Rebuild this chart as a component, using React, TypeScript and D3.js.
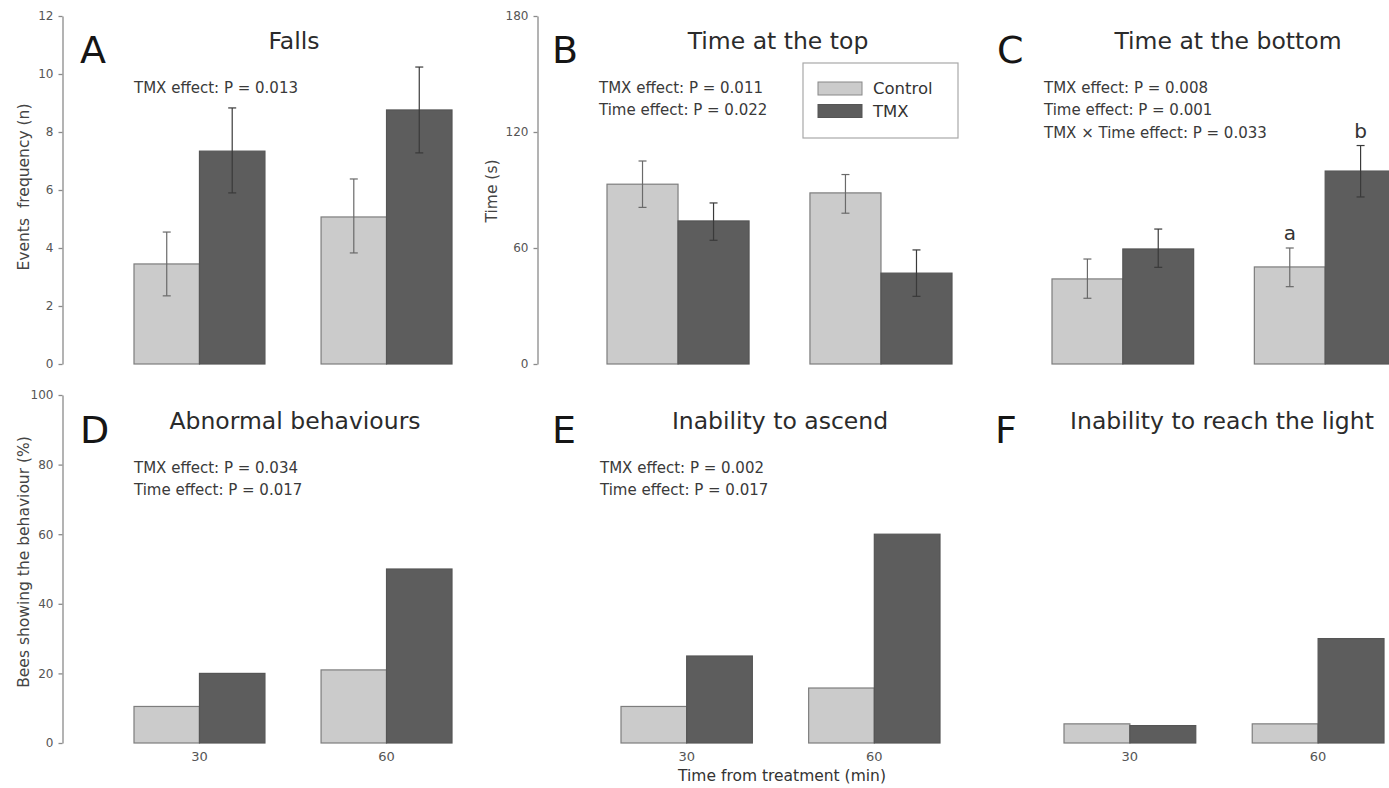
import React, { useEffect, useRef } from "react";
import * as d3 from "d3";

// ---- data ----
const TIMES = ["30", "60"];
const GROUPS = ["Control", "TMX"];

// A: Falls (events frequency, n)
const fallsControl = [3.45, 5.07];
const fallsControlLo = [2.35, 3.83];
const fallsControlHi = [4.55, 6.38];
const fallsTMX = [7.34, 8.76];
const fallsTMXLo = [5.9, 7.28];
const fallsTMXHi = [8.83, 10.24];

// B: Time at the top (s)
const topControl = [93, 88.5];
const topControlLo = [81, 78];
const topControlHi = [105, 98];
const topTMX = [74, 47];
const topTMXLo = [64, 35];
const topTMXHi = [83.3, 59];

// C: Time at the bottom (s)
const bottomControl = [44, 50.2];
const bottomControlLo = [34, 40];
const bottomControlHi = [54.3, 60];
const bottomTMX = [59.5, 99.8];
const bottomTMXLo = [50, 86.4];
const bottomTMXHi = [69.8, 113];

// D-F: % bees showing the behaviour
const abnormalControl = [10.5, 21];
const abnormalTMX = [20, 50];
const ascendControl = [10.5, 15.8];
const ascendTMX = [25, 60];
const lightControl = [5.5, 5.5];
const lightTMX = [5, 30];

const fallsTicks = [0, 2, 4, 6, 8, 10, 12];
const timeTicks = [0, 60, 120, 180];
const pctTicks = [0, 20, 40, 60, 80, 100];

const FONT = "'DejaVu Sans', 'Noto Sans', sans-serif";
const CONTROL_FILL = "#cbcbcb";
const TMX_FILL = "#5d5d5d";

type Panel = {
  letter: string;
  title: string;
  stats: string[];
  domain: [number, number];
  ticks: number[] | null;
  row: 0 | 1;
  xRange: [number, number];
  axisX: number | null;
  yLabel?: string;
  yLabelX?: number;
  yLabelY?: number;
  xLabels: boolean;
  letterX: number;
  titleX: number;
  statsX: number;
  control: number[];
  tmx: number[];
  controlLo?: number[];
  controlHi?: number[];
  tmxLo?: number[];
  tmxHi?: number[];
  sig?: { group: string; time: string; text: string }[];
};

const panels: Panel[] = [
  {
    letter: "A", title: "Falls", stats: ["TMX effect: P = 0.013"],
    domain: [0, 12], ticks: fallsTicks, row: 0, xRange: [134, 452], axisX: 62.5,
    yLabel: "Events  frequency (n)", yLabelX: 24, yLabelY: 187, xLabels: false,
    letterX: 80, titleX: 294, statsX: 134,
    control: fallsControl, tmx: fallsTMX, controlLo: fallsControlLo, controlHi: fallsControlHi,
    tmxLo: fallsTMXLo, tmxHi: fallsTMXHi,
  },
  {
    letter: "B", title: "Time at the top", stats: ["TMX effect: P = 0.011", "Time effect: P = 0.022"],
    domain: [0, 180], ticks: timeTicks, row: 0, xRange: [607, 952], axisX: 537.5,
    yLabel: "Time (s)", yLabelX: 492, yLabelY: 191, xLabels: false,
    letterX: 552, titleX: 778, statsX: 599,
    control: topControl, tmx: topTMX, controlLo: topControlLo, controlHi: topControlHi,
    tmxLo: topTMXLo, tmxHi: topTMXHi,
  },
  {
    letter: "C", title: "Time at the bottom",
    stats: ["TMX effect: P = 0.008", "Time effect: P = 0.001", "TMX \u00d7 Time effect: P = 0.033"],
    domain: [0, 180], ticks: null, row: 0, xRange: [1052, 1396], axisX: null, xLabels: false,
    letterX: 997, titleX: 1228, statsX: 1044,
    control: bottomControl, tmx: bottomTMX, controlLo: bottomControlLo, controlHi: bottomControlHi,
    tmxLo: bottomTMXLo, tmxHi: bottomTMXHi,
    sig: [{ group: "Control", time: "60", text: "a" }, { group: "TMX", time: "60", text: "b" }],
  },
  {
    letter: "D", title: "Abnormal behaviours", stats: ["TMX effect: P = 0.034", "Time effect: P = 0.017"],
    domain: [0, 100], ticks: pctTicks, row: 1, xRange: [134, 452], axisX: 62.5,
    yLabel: "Bees showing the behaviour (%)", yLabelX: 24, yLabelY: 562, xLabels: true,
    letterX: 80, titleX: 295, statsX: 134,
    control: abnormalControl, tmx: abnormalTMX,
  },
  {
    letter: "E", title: "Inability to ascend", stats: ["TMX effect: P = 0.002", "Time effect: P = 0.017"],
    domain: [0, 100], ticks: null, row: 1, xRange: [621, 940], axisX: null, xLabels: true,
    letterX: 552, titleX: 780, statsX: 600,
    control: ascendControl, tmx: ascendTMX,
  },
  {
    letter: "F", title: "Inability to reach the light", stats: [],
    domain: [0, 100], ticks: null, row: 1, xRange: [1064, 1384], axisX: null, xLabels: true,
    letterX: 995, titleX: 1222, statsX: 1044,
    control: lightControl, tmx: lightTMX,
  },
];

const ROWS = [
  { yRange: [364, 16] as [number, number], titleY: 49, letterY: 63, statsY: 92.5 },
  { yRange: [743, 395] as [number, number], titleY: 429, letterY: 443, statsY: 472.5 },
];

function Axis({ x, scale, ticks }: { x: number; scale: d3.ScaleLinear<number, number>; ticks: number[] }) {
  const ref = useRef<SVGGElement>(null);
  useEffect(() => {
    if (!ref.current) return;
    const g = d3.select(ref.current);
    g.selectAll("*").remove();
    g.call(d3.axisLeft(scale).tickValues(ticks).tickSize(4).tickSizeOuter(0).tickPadding(5));
    g.select(".domain").attr("stroke", "#8a8a8a").attr("stroke-width", 1.3);
    g.selectAll(".tick line").attr("stroke", "#8a8a8a").attr("stroke-width", 1.3);
    g.selectAll(".tick text")
      .attr("fill", "#555")
      .style("fill", "#555")
      .style("font-family", FONT)
      .style("font-size", "12px");
  }, [scale, ticks]);
  return <g ref={ref} transform={`translate(${x},0)`} />;
}

function PanelView({ p }: { p: Panel }) {
  const row = ROWS[p.row];
  const y = d3.scaleLinear().domain(p.domain).range(row.yRange);
  const xTime = d3.scaleBand<string>().domain(TIMES).range(p.xRange).paddingInner(0.3).paddingOuter(0);
  const xGroup = d3.scaleBand<string>().domain(GROUPS).range([0, xTime.bandwidth()]).padding(0);
  const series = [
    { key: "Control", vals: p.control, lo: p.controlLo, hi: p.controlHi, fill: CONTROL_FILL, stroke: "#7d7d7d" },
    { key: "TMX", vals: p.tmx, lo: p.tmxLo, hi: p.tmxHi, fill: TMX_FILL, stroke: "#555" },
  ];
  const y0 = y(0);
  return (
    <g>
      {p.axisX !== null && p.ticks && <Axis x={p.axisX} scale={y} ticks={p.ticks} />}
      {p.yLabel && (
        <text
          transform={`translate(${p.yLabelX},${p.yLabelY}) rotate(-90)`}
          textAnchor="middle"
          dominantBaseline="middle"
          xmlSpace="preserve"
          style={{ fontFamily: FONT, fontSize: 15.5, fill: "#444", whiteSpace: "pre" }}
        >
          {p.yLabel}
        </text>
      )}
      <text x={p.letterX} y={row.letterY} style={{ fontFamily: FONT, fontSize: 38, fill: "#151515" }}>
        {p.letter}
      </text>
      <text x={p.titleX} y={row.titleY} textAnchor="middle" style={{ fontFamily: FONT, fontSize: 23.5, fill: "#2b2b2b" }}>
        {p.title}
      </text>
      {p.stats.map((s, i) => (
        <text key={i} x={p.statsX} y={row.statsY + i * 22.5} style={{ fontFamily: FONT, fontSize: 15, fill: "#3a3a3a" }}>
          {s}
        </text>
      ))}
      {series.map((s) =>
        TIMES.map((t, i) => {
          const bx = (xTime(t) ?? 0) + (xGroup(s.key) ?? 0);
          const bw = xGroup.bandwidth();
          return (
            <rect key={s.key + t} x={bx} y={y(s.vals[i])} width={bw} height={y0 - y(s.vals[i])}
              fill={s.fill} stroke={s.stroke} strokeWidth={1.2} />
          );
        })
      )}
      {series.map((s) =>
        s.lo && s.hi
          ? TIMES.map((t, i) => {
              const cx = (xTime(t) ?? 0) + (xGroup(s.key) ?? 0) + xGroup.bandwidth() / 2;
              const lo = y(s.lo![i]);
              const hi = y(s.hi![i]);
              const col = s.key === "Control" ? "#6a6a6a" : "#3a3a3a";
              return (
                <g key={"e" + s.key + t} stroke={col} strokeWidth={1.2}>
                  <line x1={cx} x2={cx} y1={lo} y2={hi} />
                  <line x1={cx - 4} x2={cx + 4} y1={lo} y2={lo} />
                  <line x1={cx - 4} x2={cx + 4} y1={hi} y2={hi} />
                </g>
              );
            })
          : null
      )}
      {p.sig &&
        p.sig.map((sg) => {
          const i = TIMES.indexOf(sg.time);
          const s = series.find((q) => q.key === sg.group)!;
          const cx = (xTime(sg.time) ?? 0) + (xGroup(sg.group) ?? 0) + xGroup.bandwidth() / 2;
          return (
            <text key={sg.text} x={cx} y={y(s.hi![i]) - 8} textAnchor="middle"
              style={{ fontFamily: FONT, fontSize: 20, fill: "#333" }}>
              {sg.text}
            </text>
          );
        })}
      {p.xLabels &&
        TIMES.map((t) => (
          <text key={"xl" + t} x={(xTime(t) ?? 0) + xTime.bandwidth() / 2} y={761} textAnchor="middle"
            style={{ fontFamily: FONT, fontSize: 13, fill: "#555" }}>
            {t}
          </text>
        ))}
    </g>
  );
}

export default function App() {
  return (
    <svg width={1389} height={788} style={{ position: "absolute", left: 0, top: 0, background: "#fff" }}>
      <rect x={0} y={0} width={1389} height={788} fill="#fff" />
      {panels.map((p) => (
        <PanelView key={p.letter} p={p} />
      ))}
      {/* legend */}
      <g>
        <rect x={803} y={63} width={155} height={75} fill="#fff" stroke="#a8a8a8" strokeWidth={1.2} />
        {GROUPS.map((g, i) => (
          <g key={g}>
            <rect x={818} y={82 + i * 22.5} width={44} height={13} fill={g === "Control" ? CONTROL_FILL : TMX_FILL}
              stroke={g === "Control" ? "#888" : "#555"} strokeWidth={1} />
            <text x={873} y={94 + i * 22.5} style={{ fontFamily: FONT, fontSize: 16.5, fill: "#333" }}>
              {g}
            </text>
          </g>
        ))}
      </g>
      <text x={782} y={781} textAnchor="middle" style={{ fontFamily: FONT, fontSize: 15.5, fill: "#333" }}>
        Time from treatment (min)
      </text>
    </svg>
  );
}
